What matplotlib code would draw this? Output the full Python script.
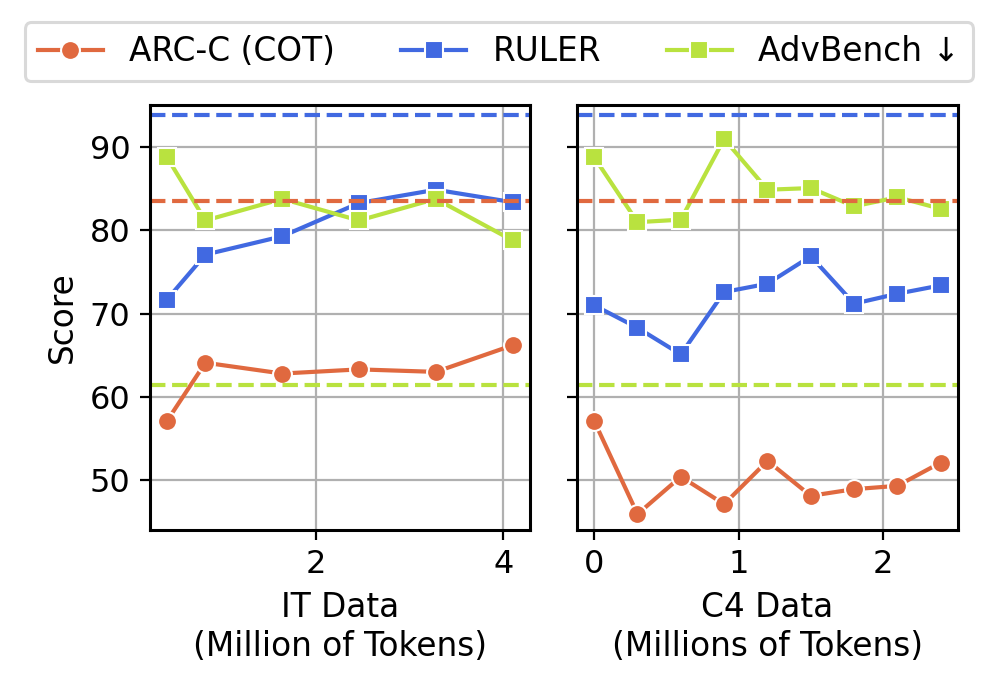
import matplotlib
matplotlib.use("Agg")
import matplotlib.pyplot as plt

# data
it_tokens = [0.41, 0.82, 1.64, 2.46, 3.28, 4.10]
it_arc = [57.1, 64.1, 62.8, 63.3, 63.0, 66.2]
it_ruler = [71.7, 77.1, 79.3, 83.3, 84.9, 83.4]
it_adv = [88.8, 81.2, 83.8, 81.2, 83.8, 78.8]

c4_tokens = [0.0, 0.3, 0.6, 0.9, 1.2, 1.5, 1.8, 2.1, 2.4]
c4_arc = [57.1, 45.9, 50.4, 47.1, 52.3, 48.1, 48.9, 49.3, 52.1]
c4_ruler = [71.0, 68.3, 65.1, 72.6, 73.6, 76.9, 71.2, 72.4, 73.4]
c4_adv = [88.8, 81.0, 81.3, 91.0, 84.9, 85.1, 82.9, 84.0, 82.6]

# baselines (dashed)
base_arc = 83.6
base_ruler = 93.9
base_adv = 61.4

names = ["ARC-C (COT)", "RULER", "AdvBench \u2193"]
colors = ["#E0693F", "#4169E1", "#B9E23F"]
markers = ["o", "s", "s"]

plt.rcParams["font.family"] = "DejaVu Sans"
plt.rcParams["axes.linewidth"] = 1.1

fig = plt.figure(figsize=(4.99, 3.45), dpi=200)
ax1 = fig.add_axes([0.150, 0.232, 0.381, 0.616])
ax2 = fig.add_axes([0.578, 0.232, 0.382, 0.616], sharey=ax1)

panels = [
    (ax1, it_tokens, [it_arc, it_ruler, it_adv], "IT Data\n(Million of Tokens)", [2, 4]),
    (ax2, c4_tokens, [c4_arc, c4_ruler, c4_adv], "C4 Data\n(Millions of Tokens)", [0, 1, 2]),
]

handles = []
for ax, xs, series, xlabel, ticks in panels:
    ax.set_axisbelow(True)
    ax.grid(True, color="#b0b0b0", linewidth=0.8)
    for ys, name, color, marker in zip(series, names, colors, markers):
        h, = ax.plot(xs, ys, color=color, marker=marker, linewidth=1.5,
                     markersize=6.8, markeredgecolor="white", markeredgewidth=0.75,
                     label=name)
        if ax is ax1:
            handles.append(h)
    for base, color in zip([base_arc, base_ruler, base_adv], colors):
        ax.axhline(base, color=color, linestyle="--", linewidth=1.5)
    ax.set_xticks(ticks)
    ax.set_xlabel(xlabel, fontsize=11.8)
    ax.tick_params(labelsize=11.5)
    pad = 0.05 * (xs[-1] - xs[0])
    ax.set_xlim(xs[0] - pad, xs[-1] + pad)

ax1.set_ylim(44.0, 95.1)
ax1.set_yticks([50, 60, 70, 80, 90])
ax1.set_ylabel("Score", fontsize=11.8)
plt.setp(ax2.get_yticklabels(), visible=False)

leg = fig.legend(handles=handles, labels=names, loc="center", ncol=3,
                 bbox_to_anchor=(0.5, 0.925), fontsize=11.8, frameon=True,
                 edgecolor="#d0d0d0", handlelength=2, columnspacing=2.0)
leg.get_frame().set_linewidth(1.1)

fig.savefig("out.png", dpi=200)
